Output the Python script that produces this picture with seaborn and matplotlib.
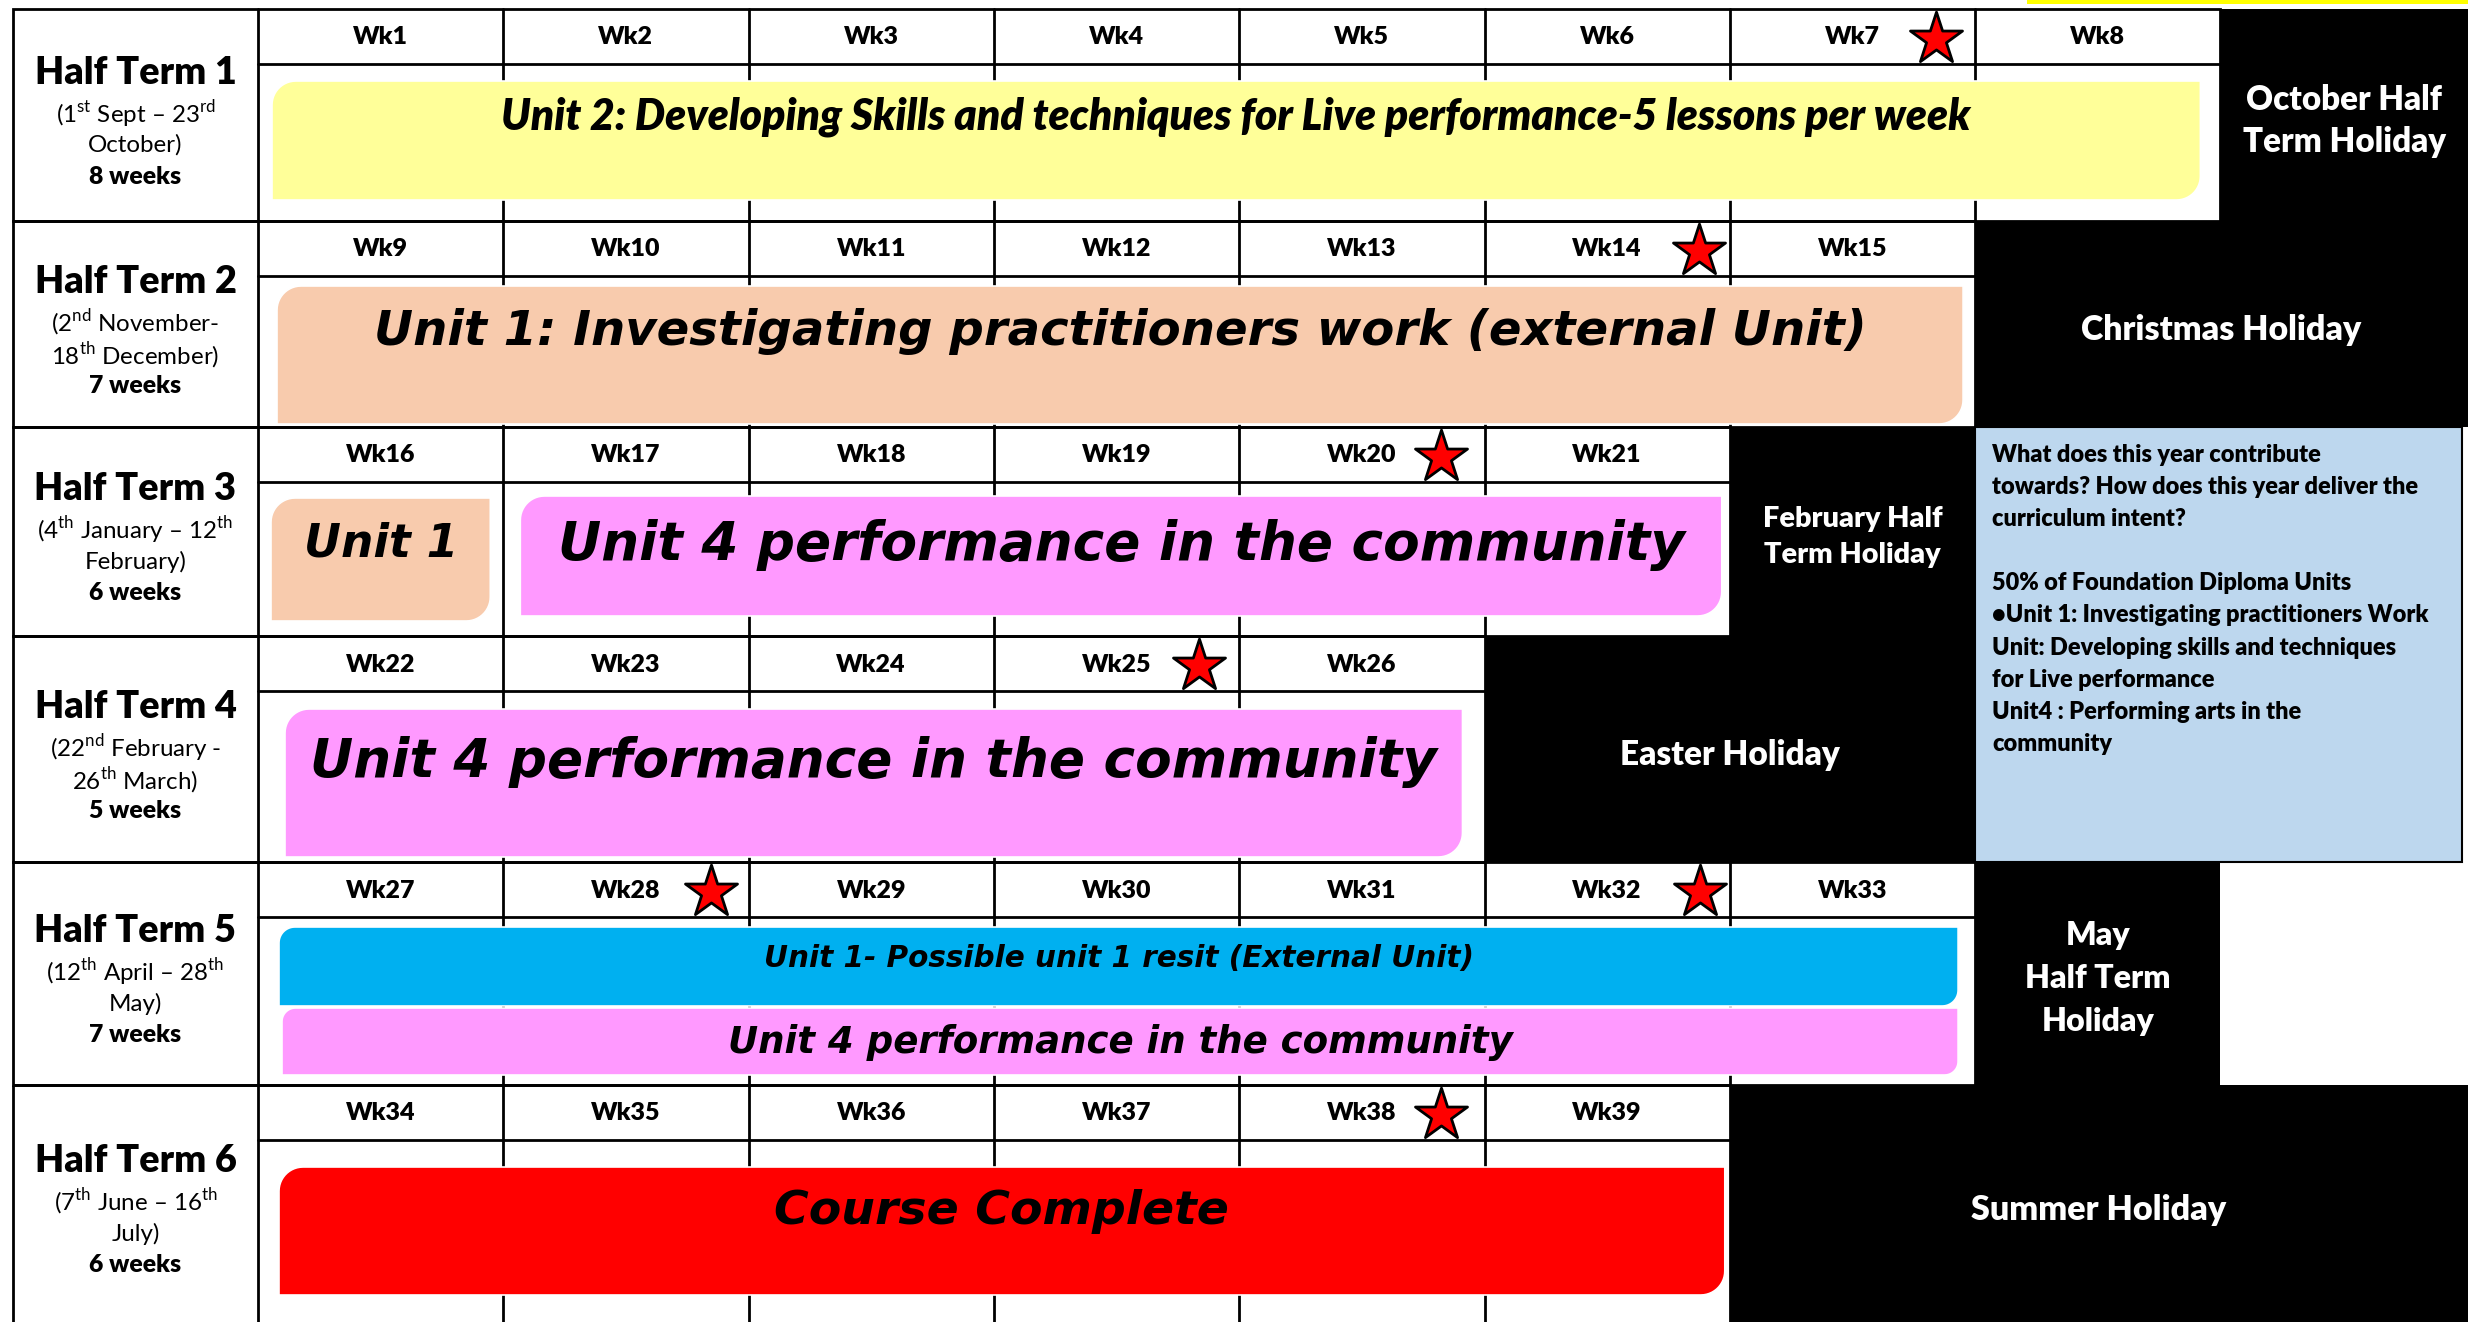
import numpy as np
import pandas as pd
import matplotlib
matplotlib.use("Agg")
import matplotlib.pyplot as plt
from matplotlib.patches import Rectangle, Polygon
import seaborn as sns

# ---------------- data ----------------
terms = ["Half Term 1", "Half Term 2", "Half Term 3",
         "Half Term 4", "Half Term 5", "Half Term 6"]
term_dates = [
    [r"(1$^{\rm st}$ Sept – 23$^{\rm rd}$", "October)"],
    [r"(2$^{\rm nd}$ November-", r"18$^{\rm th}$ December)"],
    [r"(4$^{\rm th}$ January – 12$^{\rm th}$", "February)"],
    [r"(22$^{\rm nd}$ February -", r"26$^{\rm th}$ March)"],
    [r"(12$^{\rm th}$ April – 28$^{\rm th}$", "May)"],
    [r"(7$^{\rm th}$ June – 16$^{\rm th}$", "July)"],
]
term_lengths = ["8 weeks", "7 weeks", "6 weeks", "5 weeks", "7 weeks", "6 weeks"]
weeks_per_term = [8, 7, 6, 5, 7, 6]

holiday_names = [
    ["October Half", "Term Holiday"],
    ["Christmas Holiday"],
    ["February Half", "Term Holiday"],
    ["Easter Holiday"],
    ["May", "Half Term", "Holiday"],
    ["Summer Holiday"],
]
holiday_end = [9, 9, 7, 7, 8, 9]   # last grid column the holiday block reaches

star_weeks = [7, 14, 20, 25, 28, 32, 38]

unit_term = [0, 1, 2, 2, 3, 4, 4, 5]
unit_start = [0, 0, 0, 1, 0, 0, 0, 0]
unit_end = [8, 7, 1, 6, 5, 7, 7, 6]
unit_labels = [
    "Unit 2: Developing Skills and techniques for Live performance-5 lessons per week",
    "Unit 1: Investigating practitioners work (external Unit)",
    "Unit 1",
    "Unit 4 performance in the community",
    "Unit 4 performance in the community",
    "Unit 1- Possible unit 1 resit (External Unit)",
    "Unit 4 performance in the community",
    "Course Complete",
]
unit_colors = ["#FFFF99", "#F8CBAD", "#F8CBAD", "#FF99FF",
               "#FF99FF", "#00B0F0", "#FF99FF", "#FF0000"]

info_lines = [
    "What does this year contribute",
    "towards? How does this year deliver the",
    "curriculum intent?",
    "",
    "50% of Foundation Diploma Units",
    "•Unit 1: Investigating practitioners Work",
    "Unit: Developing skills and techniques",
    "for Live performance",
    "Unit4 : Performing arts in the",
    "community",
]

# ---------------- layout ----------------
W, H = 2468, 1322
LEFT, LABEL_R, COL_W, HEAD = 13, 258, 245.3, 55
row_edges = [9, 221, 427, 636, 862, 1085, 1326]

bar_pad_l = [14, 19, 13, 17, 27, 21, 24, 21]
bar_pad_r = [20, 12, 13, 8, 22, 17, 17, 5]
bar_top_pad = [17, 10, 16, 14, 18, 10, 91, 27]
bar_height = [119, 138, 123, 120, 148, 79, 67, 128]
text_frac = [0.30, 0.33, 0.37, 0.41, 0.36, 0.40, 0.52, 0.35]
text_width = [1468, 1492, 154, 1125, 1125, 710, 784, 455]
holiday_width = [196, 280, 180, 220, 146, 256]
holiday_gap = [43, 0, 37, 0, 43, 0]
star_dx = [39, 31, 44, 40, 38, 30, 44]
BOLD = "heavy"

sns.set_theme(style="white")
plt.rcParams["font.family"] = ["Lato", "DejaVu Sans"]
plt.rcParams["text.color"] = "black"
plt.rcParams["mathtext.fontset"] = "custom"
plt.rcParams["mathtext.rm"] = "Lato"

fig = plt.figure(figsize=(W / 100, H / 100), dpi=100)
ax = fig.add_axes([0, 0, 1, 1])
ax.set_xlim(0, W)
ax.set_ylim(H, 0)
renderer = fig.canvas.get_renderer()


def col_x(k):
    return W + 4 if k >= 9 else LABEL_R + COL_W * k


def size_for(s, width, **kw):
    t = ax.text(0, 0, s, fontsize=20, **kw)
    w = t.get_window_extent(renderer).width
    t.remove()
    return 20 * width / w


def diag_round(x0, y0, x1, y1, r, color):
    th = np.linspace(0, np.pi / 2, 14)
    pts = [(x0 + r - r * np.cos(t), y0 + r - r * np.sin(t)) for t in th]
    pts.append((x1, y0))
    pts += [(x1 - r + r * np.cos(t), y1 - r + r * np.sin(t)) for t in th]
    pts.append((x0, y1))
    return Polygon(pts, closed=True, facecolor=color, edgecolor="white",
                   linewidth=1.2, zorder=2)


# grid of each half term
lw = 2
for i, n in enumerate(weeks_per_term):
    top, bot = row_edges[i], row_edges[i + 1]
    ax.add_patch(Rectangle((LEFT, top), col_x(n) - LEFT, bot - top,
                           fill=False, edgecolor="black", linewidth=lw, zorder=1))
    ax.plot([LABEL_R, LABEL_R], [top, bot], color="black", lw=lw, zorder=1)
    ax.plot([LABEL_R, col_x(n)], [top + HEAD, top + HEAD], color="black", lw=lw, zorder=1)
    for k in range(1, n):
        ax.plot([col_x(k), col_x(k)], [top, bot], color="black", lw=lw, zorder=1)

# week labels
wk_size = size_for("Wk1", 55, fontweight=BOLD)
week = 1
for i, n in enumerate(weeks_per_term):
    for k in range(n):
        ax.text((col_x(k) + col_x(k + 1)) / 2, row_edges[i] + HEAD / 2 + 1, f"Wk{week}",
                fontsize=wk_size, fontweight=BOLD, ha="center", va="center", zorder=4)
        week += 1

# term labels
title_size = size_for("Half Term 1", 202, fontweight=BOLD)
date_size = size_for(term_dates[2][0], 196)
len_size = size_for("8 weeks", 92, fontweight=BOLD)
lab_x = (LEFT + LABEL_R) / 2
for i, name in enumerate(terms):
    c = (row_edges[i] + min(row_edges[i + 1], H)) / 2
    ax.text(lab_x, c - 45, name, fontsize=title_size, fontweight=BOLD,
            ha="center", va="center_baseline", zorder=4)
    for j, line in enumerate(term_dates[i]):
        ax.text(lab_x, c - 5 + 33 * j, line, fontsize=date_size,
                ha="center", va="center_baseline", zorder=4)
    ax.text(lab_x, c + 60, term_lengths[i], fontsize=len_size, fontweight=BOLD,
            ha="center", va="center_baseline", zorder=4)

# unit bars
for u in range(len(unit_labels)):
    i = unit_term[u]
    x0 = col_x(unit_start[u]) + bar_pad_l[u]
    x1 = col_x(unit_end[u]) - bar_pad_r[u]
    y0 = row_edges[i] + HEAD + bar_top_pad[u]
    y1 = y0 + bar_height[u]
    r = min(24, 0.2 * bar_height[u])
    ax.add_patch(diag_round(x0, y0, x1, y1, r, unit_colors[u]))
    fam = ["Lato", "DejaVu Sans"] if u == 0 else ["DejaVu Sans"]
    wt = BOLD if u == 0 else "bold"
    fs = size_for(unit_labels[u], text_width[u], fontweight=wt,
                  fontstyle="italic", family=fam)
    ax.text((x0 + x1) / 2, y0 + text_frac[u] * bar_height[u], unit_labels[u],
            fontsize=fs, fontweight=wt, fontstyle="italic", family=fam,
            ha="center", va="center", zorder=4)

# holidays
for i, lines in enumerate(holiday_names):
    top, bot = row_edges[i], row_edges[i + 1]
    x0, x1 = col_x(weeks_per_term[i]), col_x(holiday_end[i])
    ax.add_patch(Rectangle((x0, top), x1 - x0, bot - top, facecolor="black",
                           edgecolor="none", zorder=3))
    widest = max(lines, key=len)
    fs = size_for(widest, holiday_width[i], fontweight=BOLD)
    c = (top + min(bot, H)) / 2 + 3
    n = len(lines)
    for j, line in enumerate(lines):
        ax.text((x0 + min(x1, W)) / 2, c + (j - (n - 1) / 2) * holiday_gap[i], line,
                fontsize=fs, fontweight=BOLD, color="white",
                ha="center", va="center_baseline", zorder=4)

# curriculum intent box
bx0, by0, by1 = col_x(7), row_edges[2], row_edges[4]
ax.add_patch(Rectangle((bx0, by0), W - 6 - bx0, by1 - by0, facecolor="#BDD7EE",
                       edgecolor="black", linewidth=1.5, zorder=3))
info_size = size_for(info_lines[5], 437, fontweight=BOLD)
for j, line in enumerate(info_lines):
    if line:
        ax.text(bx0 + 17, 453 + 32.1 * j, line, fontsize=info_size, fontweight=BOLD,
                ha="left", va="center_baseline", zorder=4)

# yellow strip at the top right
ax.add_patch(Rectangle((2027, 0), W - 2027, 3.5, facecolor="#FFFF00",
                       edgecolor="none", zorder=3))

# assessment stars
cum = np.cumsum([0] + weeks_per_term)
star_rows = []
for w, dx in zip(star_weeks, star_dx):
    i = int(np.searchsorted(cum, w) - 1)
    k = w - 1 - cum[i]
    star_rows.append({"x": col_x(k + 1) - dx, "y": row_edges[i] + HEAD / 2 + 2})
stars = pd.DataFrame(star_rows)
sns.scatterplot(data=stars, x="x", y="y", marker="*", s=1550, color="#FF0000",
                edgecolor="black", linewidth=2, ax=ax, legend=False, zorder=5)

ax.set_xlim(0, W)
ax.set_ylim(H, 0)
ax.axis("off")
fig.savefig("out.png", dpi=100)
